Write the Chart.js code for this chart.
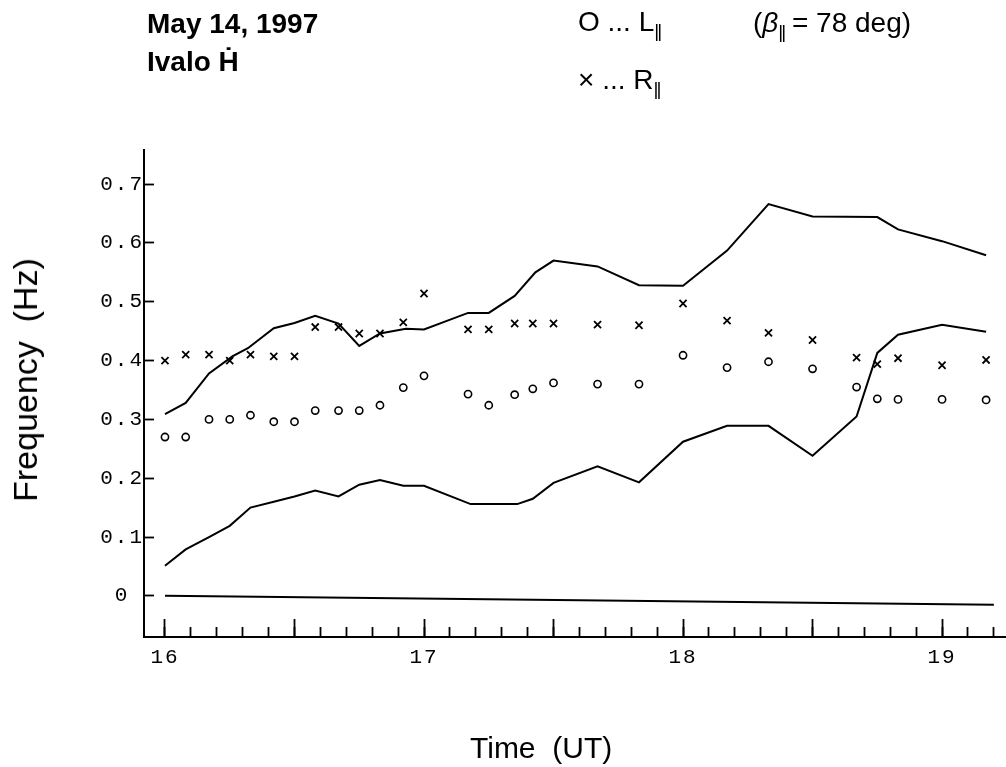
<!DOCTYPE html>
<html>
<head>
<meta charset="utf-8">
<script src="https://cdn.jsdelivr.net/npm/chart.js@4.4.0/dist/chart.umd.min.js"></script>
<style>
    html, body { margin: 0; padding: 0; background: #fff; }
    #wrap { position: relative; width: 1006px; height: 767px; overflow: hidden; }
    #chart { position: absolute; left: 0; top: 0; }
    .txt { position: absolute; font-family: 'Liberation Sans', Arial, sans-serif; color: #000; white-space: pre; line-height: 1; }
    .sub { font-size: 19px; position: relative; top: 6px; letter-spacing: -2px; }
</style>
</head>
<body>
<div id="wrap">
    <canvas id="chart" width="1006" height="767"></canvas>

    <div class="txt" style="left:147px; top:10px; font-size:28px; font-weight:bold;">May 14, 1997</div>
    <div class="txt" style="left:147px; top:48px; font-size:28px; font-weight:bold;">Ivalo Ḣ</div>
    <div class="txt" style="left:578px; top:8px; font-size:28px;">O ... L<span class="sub">||</span></div>
    <div class="txt" style="left:578px; top:66px; font-size:28px;">× ... R<span class="sub">||</span></div>
    <div class="txt" style="left:753px; top:9px; font-size:28px;">(<i>β</i><span class="sub">||</span> = 78 deg)</div>

    <div class="txt" style="left:25px; top:380px; font-size:34px; transform: translate(-50%, -50%) rotate(-90deg);">Frequency  (Hz)</div>
    <div class="txt" style="left:470px; top:733px; font-size:30px;">Time  (UT)</div>
</div>

<script>
// Observation times (UT hours), shared by the L and R points
const obsTimes = [16.0, 16.08, 16.17, 16.25, 16.33, 16.42, 16.5, 16.58, 16.67, 16.75, 16.83, 16.92, 17.0,
    17.17, 17.25, 17.35, 17.42, 17.5, 17.67, 17.83, 18.0, 18.17, 18.33, 18.5, 18.67, 18.75, 18.83, 19.0, 19.17];

// O ... L|| (Hz)
const freqL = [0.27, 0.27, 0.30, 0.30, 0.307, 0.296, 0.296, 0.315, 0.315, 0.315, 0.324, 0.354, 0.374,
    0.343, 0.324, 0.342, 0.352, 0.362, 0.36, 0.36, 0.409, 0.388, 0.398, 0.386, 0.355, 0.335, 0.334, 0.334, 0.333];

// X ... R|| (Hz)
const freqR = [0.40, 0.41, 0.41, 0.40, 0.41, 0.407, 0.407, 0.457, 0.457, 0.446, 0.446, 0.465, 0.514,
    0.453, 0.453, 0.463, 0.463, 0.463, 0.461, 0.46, 0.497, 0.468, 0.447, 0.435, 0.405, 0.394, 0.404, 0.392, 0.401];

// upper solid curve
const upperTimes = [16.0, 16.08, 16.17, 16.26, 16.32, 16.42, 16.5, 16.58, 16.67, 16.75, 16.83, 16.93, 17.0,
    17.17, 17.25, 17.35, 17.43, 17.5, 17.67, 17.83, 18.0, 18.17, 18.33, 18.5, 18.75, 18.83, 19.0, 19.17];
const upperFreq = [0.309, 0.328, 0.378, 0.407, 0.421, 0.455, 0.464, 0.476, 0.463, 0.425, 0.446, 0.454, 0.453,
    0.481, 0.481, 0.51, 0.55, 0.57, 0.56, 0.528, 0.527, 0.587, 0.666, 0.645, 0.644, 0.623, 0.603, 0.579];

// lower solid curve
const lowerTimes = [16.0, 16.08, 16.17, 16.25, 16.33, 16.42, 16.5, 16.58, 16.67, 16.75, 16.83, 16.92, 17.0,
    17.18, 17.36, 17.42, 17.5, 17.67, 17.83, 18.0, 18.17, 18.33, 18.5, 18.67, 18.75, 18.83, 19.0, 19.17];
const lowerFreq = [0.051, 0.079, 0.10, 0.119, 0.15, 0.16, 0.169, 0.179, 0.169, 0.189, 0.197, 0.187, 0.187,
    0.156, 0.156, 0.165, 0.192, 0.22, 0.193, 0.262, 0.289, 0.289, 0.238, 0.305, 0.413, 0.444, 0.461, 0.449];

// zero line
const zeroTimes = [16.0, 19.2];
const zeroFreq = [0, -0.015];

// axes
const yTickValues = [0, 0.1, 0.2, 0.3, 0.4, 0.5, 0.6, 0.7];
const yTickLabels = ['0', '0.1', '0.2', '0.3', '0.4', '0.5', '0.6', '0.7'];
const xMajorTicks = [16, 16.5, 17, 17.5, 18, 18.5, 19];
const xTickLabels = ['16', '', '17', '', '18', '', '19'];
const xMinorTicks = [16, 16.1, 16.2, 16.3, 16.4, 16.5, 16.6, 16.7, 16.8, 16.9, 17, 17.1, 17.2, 17.3, 17.4, 17.5,
    17.6, 17.7, 17.8, 17.9, 18, 18.1, 18.2, 18.3, 18.4, 18.5, 18.6, 18.7, 18.8, 18.9, 19, 19.1, 19.2];

const X_MIN = 15.919, X_MAX = 19.243;
const Y_MIN = -0.07, Y_MAX = 0.758;

function pairs(xs, ys) {
    return xs.map((x, i) => ({ x: x, y: ys[i] }));
}

// no extra room for labels at the axis ends
function noPad(scale) {
    scale.paddingLeft = 0;
    scale.paddingRight = 0;
    scale.paddingTop = 0;
    scale.paddingBottom = 0;
}

// spaced-out typewriter tick labels
const tickSpacing = {
    id: 'tickSpacing',
    beforeDraw(chart) { chart.ctx.letterSpacing = '2px'; },
    afterDraw(chart) { chart.ctx.letterSpacing = '0px'; }
};

const tickFont = { family: 'Liberation Mono', size: 21 };

const lineStyle = {
    showLine: true,
    borderColor: '#000',
    borderWidth: 2,
    pointRadius: 0,
    tension: 0,
    fill: false
};

new Chart(document.getElementById('chart'), {
    type: 'scatter',
    data: {
        datasets: [
            Object.assign({ label: 'upper', data: pairs(upperTimes, upperFreq) }, lineStyle),
            Object.assign({ label: 'lower', data: pairs(lowerTimes, lowerFreq) }, lineStyle),
            Object.assign({ label: 'zero', data: pairs(zeroTimes, zeroFreq) }, lineStyle),
            {
                label: 'L',
                data: pairs(obsTimes, freqL),
                pointStyle: 'circle',
                pointRadius: 3.6,
                borderWidth: 1.6,
                borderColor: '#000',
                backgroundColor: 'rgba(0,0,0,0)'
            },
            {
                label: 'R',
                data: pairs(obsTimes, freqR),
                pointStyle: 'crossRot',
                pointRadius: 5,
                borderWidth: 1.8,
                borderColor: '#000',
                backgroundColor: '#000'
            }
        ]
    },
    options: {
        responsive: false,
        animation: false,
        devicePixelRatio: 1,
        layout: { autoPadding: false, padding: { top: 150, right: 1, left: 0, bottom: 0 } },
        plugins: {
            legend: { display: false },
            title: { display: false },
            tooltip: { enabled: false }
        },
        scales: {
            x: {
                type: 'linear',
                position: 'bottom',
                weight: 1,
                min: X_MIN,
                max: X_MAX,
                afterFit(scale) { scale.height = 130; noPad(scale); },
                afterBuildTicks(scale) { scale.ticks = xMajorTicks.map(v => ({ value: v })); },
                grid: { drawOnChartArea: false, tickLength: -18, tickColor: '#000', tickWidth: 1.8 },
                border: { color: '#000', width: 2 },
                ticks: {
                    color: '#000',
                    font: tickFont,
                    padding: 26,
                    maxRotation: 0,
                    autoSkip: false,
                    callback: (v, i) => xTickLabels[i]
                }
            },
            x2: {
                type: 'linear',
                position: 'bottom',
                weight: 0,
                min: X_MIN,
                max: X_MAX,
                afterFit(scale) { scale.height = 0; noPad(scale); },
                afterBuildTicks(scale) { scale.ticks = xMinorTicks.map(v => ({ value: v })); },
                grid: { drawOnChartArea: false, tickLength: -10, tickColor: '#000', tickWidth: 1.8 },
                border: { display: false },
                ticks: { display: false }
            },
            y: {
                type: 'linear',
                min: Y_MIN,
                max: Y_MAX,
                afterFit(scale) { scale.width = 144; noPad(scale); },
                afterBuildTicks(scale) { scale.ticks = yTickValues.map(v => ({ value: v })); },
                grid: { drawOnChartArea: false, tickLength: -10, tickColor: '#000', tickWidth: 1.8 },
                border: { color: '#000', width: 2 },
                ticks: {
                    color: '#000',
                    font: tickFont,
                    padding: 13,
                    crossAlign: 'center',
                    callback: (v, i) => yTickLabels[i]
                }
            }
        }
    },
    plugins: [tickSpacing]
});
</script>
</body>
</html>
